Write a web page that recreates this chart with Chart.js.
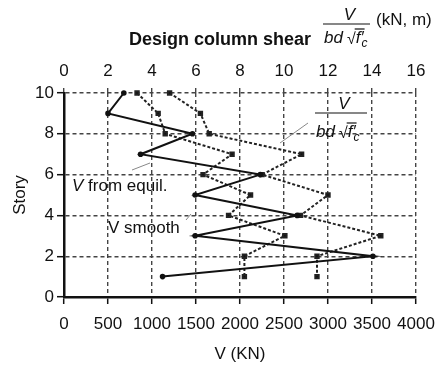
<!DOCTYPE html>
<html>
<head>
<meta charset="utf-8">
<script src="https://cdn.jsdelivr.net/npm/chart.js@4.4.1/dist/chart.umd.min.js"></script>
<style>
  html, body { margin: 0; padding: 0; background: #fff; }
  canvas { display: block; }
</style>
</head>
<body>
<canvas id="chart" width="438" height="369"></canvas>
<script>
const stories = [10, 9, 8, 7, 6, 5, 4, 3, 2, 1];
const vEquil = [680, 500, 1460, 870, 2230, 1490, 2650, 1490, 3510, 1120];
const vSmooth = [830, 1070, 1150, 1910, 1580, 2120, 1870, 2510, 2050, 2050];
const vNorm = [4.8, 6.2, 6.6, 10.8, 9.0, 12.0, 10.75, 14.4, 11.5, 11.5];

const kNTicks = [0, 500, 1000, 1500, 2000, 2500, 3000, 3500, 4000];
const normTicks = [0, 2, 4, 6, 8, 10, 12, 14, 16];
const storyTicks = [0, 2, 4, 6, 8, 10];

const FONT = '"Liberation Sans", Arial, sans-serif';
const INK = '#111';
const GRID = '#444';

const toPoints = (vals) => vals.map((v, i) => ({ x: v, y: stories[i] }));
const setTicks = (list) => (scale) => { scale.ticks = list.map(v => ({ value: v })); };
const plain = (v) => String(v);
// fixed band height, no extra room for overhanging end labels
const fixHeight = (h) => (s) => { s.height = h; s.paddingLeft = 0; s.paddingRight = 0; };

// V over bd sqrt(f'c)
function drawFraction(ctx, x0, barY, w, denomGap) {
  ctx.fillStyle = INK;
  ctx.strokeStyle = INK;
  ctx.textBaseline = 'alphabetic';
  ctx.font = `italic 17px ${FONT}`;
  ctx.textAlign = 'center';
  ctx.fillText('V', x0 + w / 2 + 3, barY - 4);

  ctx.lineWidth = 1.2;
  ctx.beginPath();
  ctx.moveTo(x0, barY);
  ctx.lineTo(x0 + w, barY);
  ctx.stroke();

  const base = barY + denomGap;
  ctx.textAlign = 'left';
  let x = x0 + 1;
  ctx.fillText('bd', x, base);
  x += ctx.measureText('bd').width + 4;
  ctx.font = `16px ${FONT}`;
  ctx.fillText('\u221A', x, base + 1);
  x += ctx.measureText('\u221A').width - 1;
  ctx.font = `italic 17px ${FONT}`;
  const fw = ctx.measureText('f\u2032').width;
  ctx.beginPath();
  ctx.moveTo(x, base - 14);
  ctx.lineTo(x + fw + 2, base - 14);
  ctx.stroke();
  ctx.fillText('f\u2032', x + 1, base);
  ctx.font = `italic 12px ${FONT}`;
  ctx.fillText('c', x + fw - 1, base + 4);
}

const annotations = {
  id: 'annotations',
  afterDraw(chart) {
    const ctx = chart.ctx;
    ctx.save();

    // title
    ctx.fillStyle = INK;
    ctx.textBaseline = 'alphabetic';
    ctx.textAlign = 'right';
    ctx.font = `bold 18px ${FONT}`;
    ctx.fillText('Design column shear', 311, 45);
    drawFraction(ctx, 323, 24, 47, 19);
    ctx.font = `17px ${FONT}`;
    ctx.textAlign = 'left';
    ctx.fillText('(kN, m)', 376, 25);

    // label for normalised curve
    drawFraction(ctx, 315, 113, 52, 24);

    // curve labels
    ctx.font = `italic 17px ${FONT}`;
    ctx.textAlign = 'left';
    ctx.fillText('V', 72, 191);
    const vw = ctx.measureText('V').width;
    ctx.font = `17px ${FONT}`;
    ctx.fillText(' from equil.', 72 + vw, 191);
    ctx.fillText('V smooth', 108, 233);

    // leader lines
    ctx.strokeStyle = '#888';
    ctx.lineWidth = 1;
    ctx.beginPath();
    ctx.moveTo(308, 123); ctx.lineTo(280, 143);
    ctx.moveTo(132, 170); ctx.lineTo(150, 163);
    ctx.moveTo(186, 220); ctx.lineTo(191, 214);
    ctx.stroke();

    ctx.restore();
  }
};

const gridOpts = {
  color: GRID,
  lineWidth: 1.4,
  tickLength: 7,
  tickColor: INK,
  tickWidth: 1.5,
  tickBorderDash: []
};

new Chart(document.getElementById('chart'), {
  type: 'scatter',
  data: {
    datasets: [
      {
        label: 'V from equil.',
        data: toPoints(vEquil),
        xAxisID: 'x',
        showLine: true,
        borderColor: INK,
        backgroundColor: INK,
        borderWidth: 2,
        pointRadius: 1.8,
        clip: false
      },
      {
        label: 'V smooth',
        data: toPoints(vSmooth),
        xAxisID: 'x',
        showLine: true,
        borderColor: '#222',
        backgroundColor: '#111',
        borderWidth: 2,
        borderDash: [3, 2],
        pointStyle: 'rect',
        pointRadius: 2.4,
        clip: false
      },
      {
        label: 'V / bd sqrt(fc)',
        data: toPoints(vNorm),
        xAxisID: 'x2',
        showLine: true,
        borderColor: '#222',
        backgroundColor: '#111',
        borderWidth: 2,
        borderDash: [3, 2],
        pointStyle: 'rect',
        pointRadius: 2.4,
        clip: false
      }
    ]
  },
  options: {
    responsive: false,
    animation: false,
    layout: { padding: { left: 0, right: 22, top: 0, bottom: 0 } },
    plugins: {
      legend: { display: false },
      tooltip: { enabled: false }
    },
    scales: {
      x: {
        type: 'linear',
        position: 'bottom',
        min: 0,
        max: 4000,
        afterBuildTicks: setTicks(kNTicks),
        afterFit: fixHeight(72),
        grid: gridOpts,
        border: { display: true, color: INK, width: 2.5, dash: [4, 3] },
        ticks: { color: INK, font: { family: FONT, size: 17 }, padding: 10, maxRotation: 0, autoSkip: false, callback: plain },
        title: { display: true, text: 'V (KN)', color: INK, font: { family: FONT, size: 17 }, padding: { top: 0, bottom: 4 } }
      },
      x2: {
        type: 'linear',
        position: 'top',
        min: 0,
        max: 16,
        afterBuildTicks: setTicks(normTicks),
        afterFit: fixHeight(93),
        grid: { drawOnChartArea: false, color: GRID, lineWidth: 1.4, tickLength: 5 },
        border: { display: false, dash: [3, 2] },
        ticks: { color: INK, font: { family: FONT, size: 17 }, padding: 6, maxRotation: 0, autoSkip: false, callback: plain }
      },
      y: {
        type: 'linear',
        min: 0,
        max: 10,
        afterBuildTicks: setTicks(storyTicks),
        afterFit: (s) => { s.width = 64; },
        grid: gridOpts,
        border: { display: true, color: INK, width: 2.5, dash: [4, 3] },
        ticks: { color: INK, font: { family: FONT, size: 17 }, padding: 3, callback: plain },
        title: { display: true, text: 'Story', color: INK, font: { family: FONT, size: 17 }, padding: { top: 10, bottom: 0 } }
      }
    }
  },
  plugins: [annotations]
});
</script>
</body>
</html>
